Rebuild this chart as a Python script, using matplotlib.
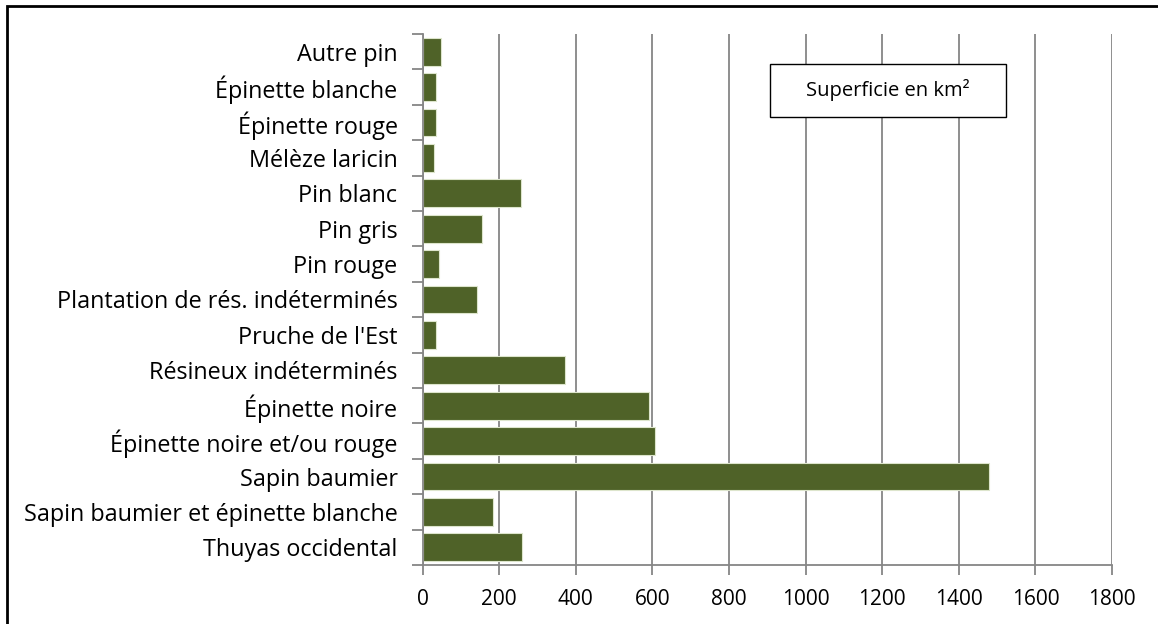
import matplotlib
matplotlib.use("Agg")
import matplotlib.pyplot as plt
from matplotlib.patches import Rectangle
import numpy as np

categories = [
    "Autre pin",
    "Épinette blanche",
    "Épinette rouge",
    "Mélèze laricin",
    "Pin blanc",
    "Pin gris",
    "Pin rouge",
    "Plantation de rés. indéterminés",
    "Pruche de l'Est",
    "Résineux indéterminés",
    "Épinette noire",
    "Épinette noire et/ou rouge",
    "Sapin baumier",
    "Sapin baumier et épinette blanche",
    "Thuyas occidental",
]
superficie = [48, 36, 34, 30, 257, 155, 44, 143, 35, 372, 590, 608, 1479, 183, 261]
xticks = [0, 200, 400, 600, 800, 1000, 1200, 1400, 1600, 1800]
legend_label = "Superficie en km²"

plt.rcParams["font.family"] = ["Open Sans", "DejaVu Sans"]

W, H = 1158, 624
fig = plt.figure(figsize=(W / 100, H / 100), dpi=100)
ax = fig.add_axes([422.5 / W, 1 - 565 / H, (1112 - 422.5) / W, (565 - 34) / H])

bar_color = "#4F6228"
grid_color = "#868686"
n = len(categories)
ypos = np.arange(n)
ax.barh(ypos, superficie, height=0.78, color=bar_color,
        edgecolor="#DDE5CC", linewidth=0.8, zorder=3)

ax.set_ylim(n - 0.5, -0.5)
ax.set_xlim(0, 1800)
ax.set_xticks(xticks)
ax.set_xticklabels([str(v) for v in xticks], fontsize=15)

# category labels between boundary ticks
ax.set_yticks(ypos)
ax.set_yticklabels(categories, fontsize=16.8)
ax.tick_params(axis="y", length=0, pad=18)
ax.set_yticks(np.arange(n + 1) - 0.5, minor=True)
ax.tick_params(axis="y", which="minor", length=8, width=1.3, color=grid_color, direction="out")
ax.tick_params(axis="x", length=7, width=1.3, color=grid_color, direction="out", pad=10)

ax.grid(axis="x", color=grid_color, linewidth=1.3, zorder=0)
for side in ["top", "right"]:
    ax.spines[side].set_visible(False)
for side in ["left", "bottom"]:
    ax.spines[side].set_color(grid_color)
    ax.spines[side].set_linewidth(1.3)
    ax.spines[side].set_zorder(4)

# legend box
ax.add_patch(Rectangle((0.504, 0.8437), 0.342, 0.0998, transform=ax.transAxes,
                       facecolor="white", edgecolor="black", linewidth=1.0, zorder=5))
ax.text(0.675, 0.8936, legend_label, transform=ax.transAxes, ha="center", va="center",
        fontsize=14.5, zorder=6)

# outer chart frame
fig.add_artist(Rectangle((7 / W, -0.05), 1.1, 1 - 5.5 / H + 0.05, transform=fig.transFigure,
                         facecolor="none", edgecolor="black", linewidth=2, clip_on=False))

fig.savefig("out.png", dpi=100)
